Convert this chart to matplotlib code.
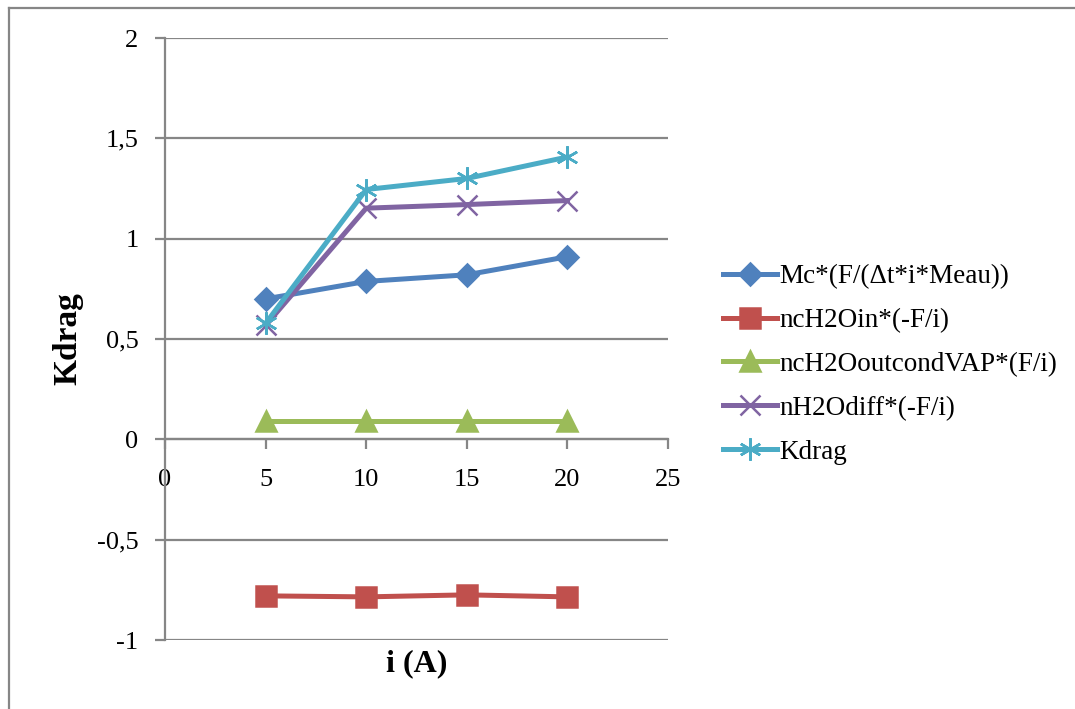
import matplotlib
matplotlib.use("Agg")
import matplotlib.pyplot as plt
from matplotlib.lines import Line2D

plt.rcParams['font.family'] = ['Liberation Serif', 'DejaVu Serif']

# data
current = [5, 10, 15, 20]
mc = [0.70, 0.787, 0.82, 0.91]
nc_in = [-0.78, -0.785, -0.775, -0.785]
nc_out = [0.09, 0.09, 0.09, 0.09]
n_diff = [0.568, 1.152, 1.17, 1.19]
kdrag = [0.578, 1.245, 1.30, 1.407]

labels = ['Mc*(F/(\u0394t*i*Meau))', 'ncH2Oin*(-F/i)', 'ncH2OoutcondVAP*(F/i)',
          'nH2Odiff*(-F/i)', 'Kdrag']
colors = ['#4F81BD', '#C0504D', '#9BBB59', '#8064A2', '#4BACC6']
markers = ['D', 's', '^', 'x', (6, 2, 0)]
msizes = [11, 14, 14, 14, 16]

grid_col = '#868686'

fig = plt.figure(figsize=(10.75, 7.09), dpi=100)
ax = fig.add_axes([0.1535, 0.0973, 0.4679, 0.8491])

series = [mc, nc_in, nc_out, n_diff, kdrag]
for vals, lab, c, m, ms in zip(series, labels, colors, markers, msizes):
    ax.plot(current, vals, color=c, lw=3.6, marker=m, ms=ms, mew=1.8,
            mec=c, mfc=c, label=lab, zorder=3)

ax.set_xlim(0, 25)
ax.set_ylim(-1, 2)
ax.set_yticks([-1, -0.5, 0, 0.5, 1, 1.5, 2])
ax.set_yticklabels(['-1', '-0,5', '0', '0,5', '1', '1,5', '2'])
ax.set_xticks([0, 5, 10, 15, 20, 25])
ax.yaxis.grid(True, color=grid_col, lw=1.6)
ax.set_axisbelow(True)

for s in ['top', 'right']:
    ax.spines[s].set_visible(False)
ax.spines['left'].set_color(grid_col)
ax.spines['left'].set_linewidth(1.6)
ax.spines['bottom'].set_position(('data', 0))
ax.spines['bottom'].set_color(grid_col)
ax.spines['bottom'].set_linewidth(1.6)
ax.tick_params(axis='both', colors=grid_col, width=1.6, length=7,
               labelsize=19, labelcolor='black')
ax.tick_params(axis='y', pad=12)
ax.tick_params(axis='x', pad=14)

ax.set_xlabel('i (A)', fontsize=23, fontweight='bold')
ax.xaxis.set_label_coords(0.5, -0.015)
ax.set_ylabel('Kdrag', fontsize=24, fontweight='bold')
ax.yaxis.set_label_coords(-0.163, 0.5)

leg = ax.legend(loc='upper left', bbox_to_anchor=(1.109, 0.6246), frameon=False,
                fontsize=19.5, handlelength=2.0, handletextpad=0.1,
                labelspacing=0.7, borderpad=0, borderaxespad=0)

# outer chart border (left and top visible)
fig.add_artist(Line2D([0.0088, 0.0088], [0, 0.989], color=grid_col, lw=1.6,
                      transform=fig.transFigure))
fig.add_artist(Line2D([0.0088, 1.0], [0.989, 0.989], color=grid_col, lw=1.6,
                      transform=fig.transFigure))

fig.savefig('out.png', dpi=100)
